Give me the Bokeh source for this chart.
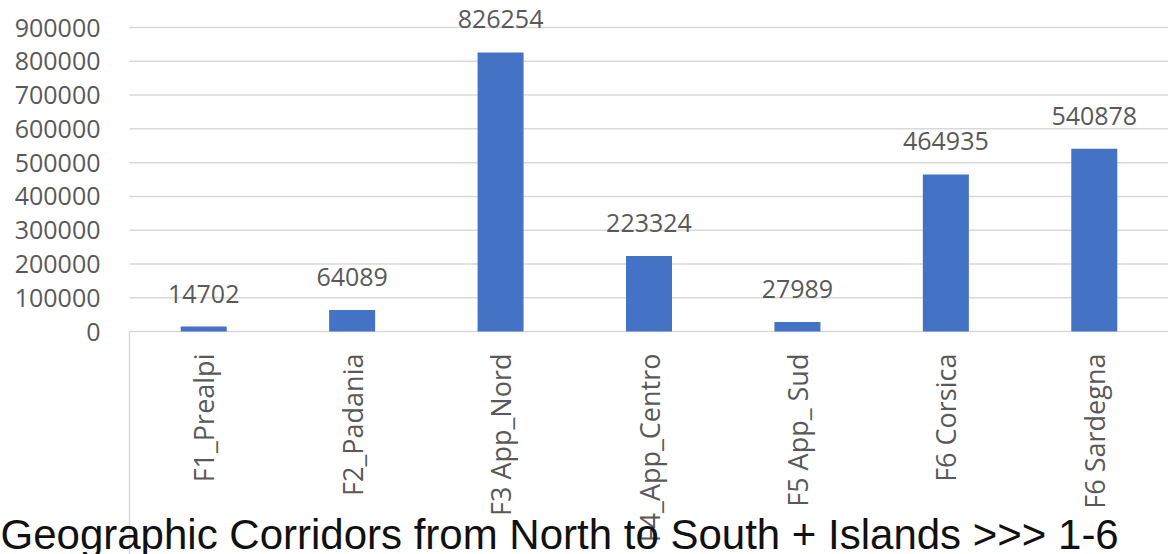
import math
from bokeh.plotting import figure
from bokeh.models import ColumnDataSource, Range1d
from bokeh.core.properties import value
from bokeh.embed import file_html
from bokeh.resources import INLINE

# ---- data ----
categories = ["F1_Prealpi", "F2_Padania", "F3 App_Nord", "F4_App_Centro",
              "F5 App_ Sud", "F6 Corsica", "F6 Sardegna"]
counts = [14702, 64089, 826254, 223324, 27989, 464935, 540878]
y_ticks = [0, 100000, 200000, 300000, 400000, 500000, 600000, 700000, 800000, 900000]
y_tick_labels = [str(t) for t in y_ticks]
title_text = "Geographic Corridors from North to South + Islands >>> 1-6"

# ---- layout / style ----
W, H = 1168, 554
LEFT = 129                      # pixel where the category area starts
N = len(categories)
CAT_W = (W - LEFT) / N          # pixels per category
X_START, X_END = -LEFT / CAT_W, N
Y_START, Y_END = -660000, 980000
PX = (Y_END - Y_START) / H      # data units per pixel (y)
PXX = 1 / CAT_W                 # data units per pixel (x)
BAR = "#4472C4"
GREY_TXT = "#595959"
GRID = "#d9d9d9"
FONT = "Open Sans"

p = figure(width=W, height=H, x_range=Range1d(X_START, X_END),
           y_range=Range1d(Y_START, Y_END), output_backend="svg",
           toolbar_location=None, min_border=0)
p.outline_line_color = None
p.background_fill_color = "white"
p.border_fill_color = "white"
p.axis.visible = False
p.grid.visible = False

xs = [i + 0.5 for i in range(N)]

# gridlines (category area only)
gsrc = ColumnDataSource(dict(y=y_ticks, lab=y_tick_labels,
                             x0=[0] * len(y_ticks), x1=[N] * len(y_ticks),
                             lx=[-29 * PXX] * len(y_ticks)))
p.segment(x0="x0", y0="y", x1="x1", y1="y", source=gsrc,
          line_color=GRID, line_width=1.5)
# y tick labels
p.text(x="lx", y="y", text="lab", source=gsrc, text_align="right",
       text_baseline="middle", text_font=value(FONT),
       text_font_size="25px", text_color=GREY_TXT)

# left edge line of category area
p.segment(x0=[0], y0=[0], x1=[0], y1=[Y_START], line_color=GRID, line_width=1.5)

src = ColumnDataSource(dict(
    x=xs,
    cat=categories,
    val=counts,
    txt=[str(v) for v in counts],
    ty=[v + 33 * PX for v in counts],
    ly=[-22 * PX] * N,
))

p.vbar(x="x", top="val", width=0.31, bottom=0, source=src,
       fill_color=BAR, line_color=None)

p.text(x="x", y="ty", text="txt", source=src, text_align="center",
       text_baseline="alphabetic", text_font=value(FONT),
       text_font_size="25px", text_color=GREY_TXT)

# category labels (rotated)
p.text(x="x", y="ly", text="cat", source=src, angle=math.pi / 2,
       text_align="right", text_baseline="middle", text_font=value(FONT),
       text_font_size="27px", text_color=GREY_TXT)

# title at the bottom, overlapping the category area
p.text(x=[X_START], y=[Y_START + 20 * PX], text=[title_text],
       text_align="left", text_baseline="alphabetic",
       text_font=value("Liberation Sans"), text_font_size="42px",
       text_color="#111111")

open("out.html", "w").write(file_html(p, INLINE))
